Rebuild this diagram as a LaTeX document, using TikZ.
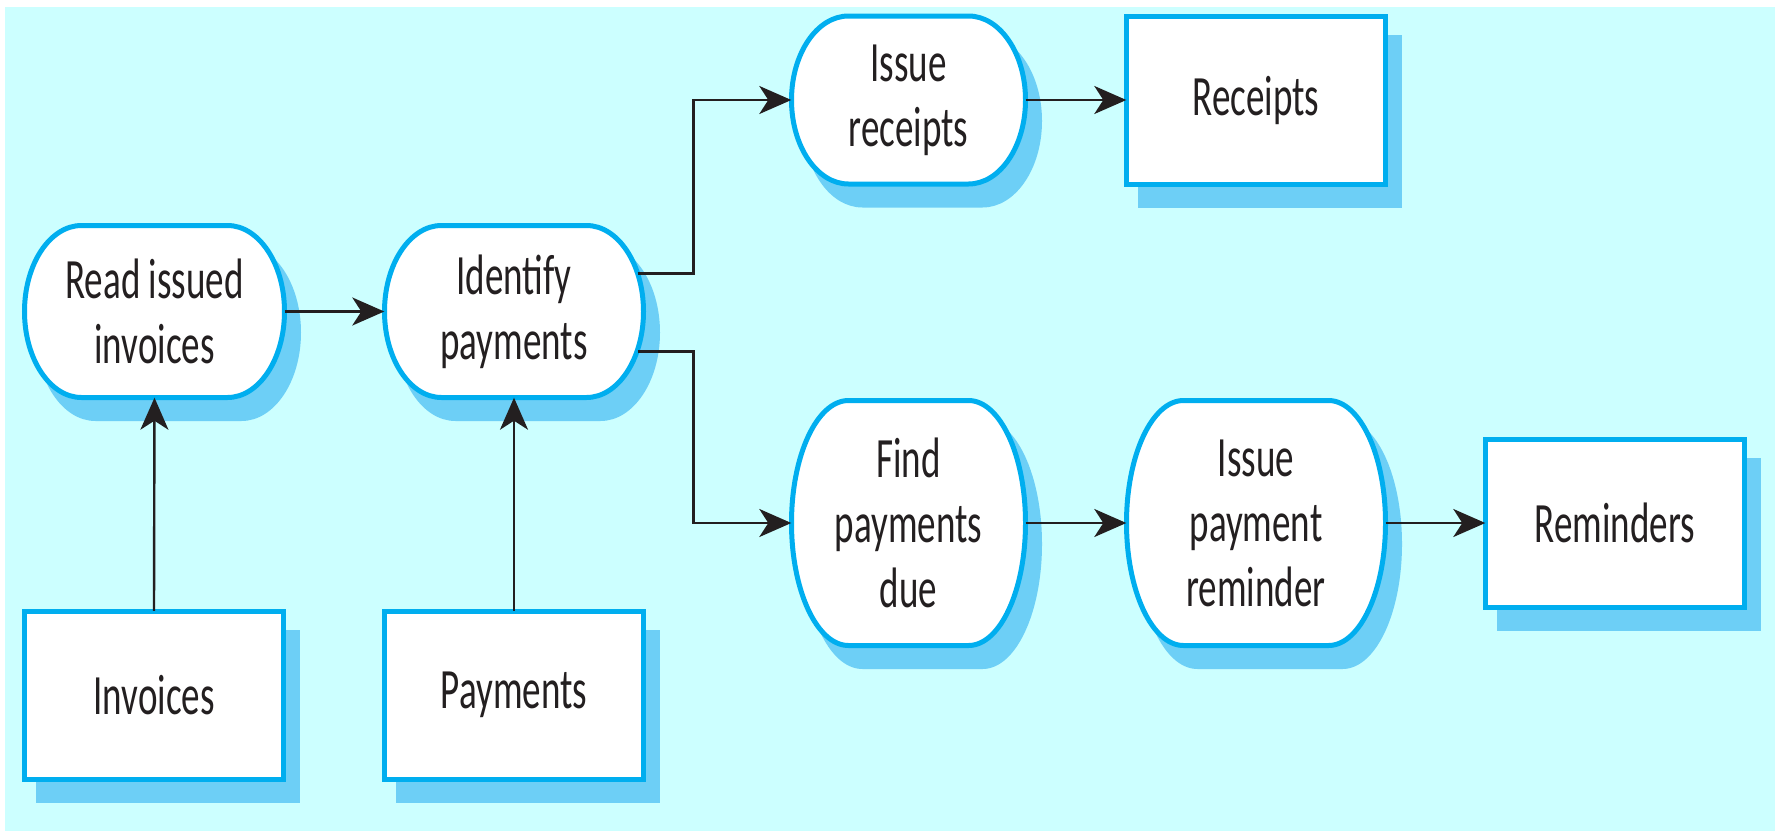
\documentclass[tikz,border=0pt]{standalone}
\usepackage{fontspec}
\setmainfont{Carlito}[FakeStretch=0.65]
\usetikzlibrary{arrows.meta}
\definecolor{bgc}{HTML}{CCFFFF}
\definecolor{edgec}{HTML}{00AEEF}
\definecolor{shadec}{HTML}{6DCFF6}
\definecolor{inkc}{HTML}{231F20}
\pgfdeclarelayer{back}
\pgfdeclarelayer{shade}
\pgfdeclarelayer{body}
\pgfsetlayers{back,shade,body,main}

% closed outline of a process: flat top and bottom, half-ellipse ends
\newcommand\stadiumloop[4]{(#1-#3/2+57,#2+#4/2) -- (#1+#3/2-57,#2+#4/2)
  arc[start angle=90,end angle=-90,x radius=57,y radius=#4/2]
  -- (#1-#3/2+57,#2-#4/2)
  arc[start angle=270,end angle=90,x radius=57,y radius=#4/2] -- cycle}
\newcommand\boxloop[4]{(#1-#3/2,#2-#4/2) rectangle (#1+#3/2,#2+#4/2)}

% process outline with its drop shadow; arguments: centre x, centre y, width, height
\newcommand\stadium[4]{%
  \begin{pgfonlayer}{shade}
    \begin{scope}[shift={(14,-21)}]
      \filldraw[shadowfill] \stadiumloop{#1}{#2}{#3}{#4};
    \end{scope}
  \end{pgfonlayer}
  \begin{pgfonlayer}{body}
    \filldraw[bodyfill] \stadiumloop{#1}{#2}{#3}{#4};
  \end{pgfonlayer}}
% data store outline with its drop shadow
\newcommand\store[4]{%
  \begin{pgfonlayer}{shade}
    \begin{scope}[shift={(14,-21)}]
      \filldraw[shadowfill] \boxloop{#1}{#2}{#3}{#4};
    \end{scope}
  \end{pgfonlayer}
  \begin{pgfonlayer}{body}
    \filldraw[bodyfill] \boxloop{#1}{#2}{#3}{#4};
  \end{pgfonlayer}}

\tikzset{
  shadowfill/.style={fill=shadec,draw=shadec,line width=5pt},
  bodyfill/.style={fill=white,draw=edgec,line width=5pt},
  lbl/.style={inner sep=0pt,align=center,text=inkc,
    font=\fontsize{57}{65}\selectfont},
  conn/.style={draw=inkc,line width=2.4pt,
    -{Stealth[length=32pt,width=28pt,inset=9pt]}},
}

\begin{document}
\begin{tikzpicture}[x=1pt,y=1pt]
\useasboundingbox (0,0) rectangle (1775,-833);
\begin{pgfonlayer}{back}
  \fill[bgc] (5,-7) rectangle (1775,-831);
\end{pgfonlayer}

% processes
\stadium{154.5}{-311.5}{260}{172}
\node[lbl,minimum width=260pt,minimum height=172pt] (RII) at (154.5,-311.5) {Read issued\\invoices};
\stadium{514}{-311.5}{259}{172}
\node[lbl,minimum width=259pt,minimum height=172pt] (IP) at (514,-311.5) {Identify\\payments};
\stadium{908.5}{-100}{234}{168}
\node[lbl,minimum width=234pt,minimum height=168pt] (IR) at (908.5,-100) {Issue\\receipts};
\stadium{908.5}{-523}{234}{245}
\node[lbl,minimum width=234pt,minimum height=245pt] (FPD) at (908.5,-523) {Find\\payments\\due};
\stadium{1256}{-523}{259}{245}
\node[lbl,minimum width=259pt,minimum height=245pt] (IPR) at (1256,-523) {Issue\\payment\\reminder};

% data stores
\store{1256}{-100}{259}{168}
\node[lbl,minimum width=259pt,minimum height=168pt] (REC) at (1256,-100) {Receipts};
\store{1615}{-523}{259}{168}
\node[lbl,minimum width=259pt,minimum height=168pt] (REM) at (1615,-523) {Reminders};
\store{154}{-695}{259}{168}
\node[lbl,minimum width=259pt,minimum height=168pt] (INV) at (154,-695) {Invoices};
\store{514}{-695}{259}{168}
\node[lbl,minimum width=259pt,minimum height=168pt] (PAY) at (514,-695) {Payments};

% connectors
\draw[conn] (RII.east) -- (IP.west);
\draw[conn] (INV.north) -- (RII.south);
\draw[conn] (PAY.north) -- (IP.south);
\draw[conn] ([xshift=-6pt,yshift=38pt]IP.east) -| ([xshift=-98pt]IR.west) -- (IR.west);
\draw[conn] ([xshift=-6pt,yshift=-40pt]IP.east) -| ([xshift=-98pt]FPD.west) -- (FPD.west);
\draw[conn] (IR.east) -- (REC.west);
\draw[conn] (FPD.east) -- (IPR.west);
\draw[conn] (IPR.east) -- (REM.west);
\end{tikzpicture}
\end{document}
